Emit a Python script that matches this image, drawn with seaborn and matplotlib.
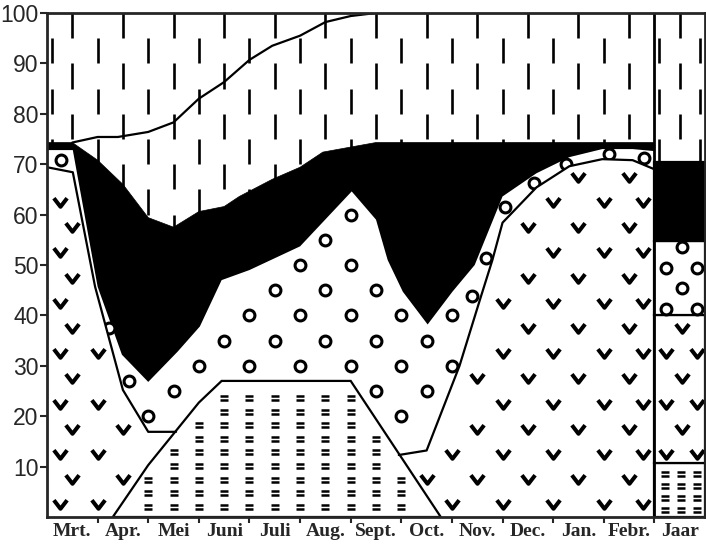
import numpy as np
import matplotlib
matplotlib.use("Agg")
import matplotlib.pyplot as plt
from matplotlib.path import Path
from matplotlib.patches import Polygon
import seaborn as sns

# month labels (main panel) and the year column
months = ["Mrt.", "Apr.", "Mei", "Juni", "Juli", "Aug.", "Sept.", "Oct.",
          "Nov.", "Dec.", "Jan.", "Febr."]
year_label = "Jaar"

# thin line running through the upper (dashed) zone
top_line_x = [0.5, 1.0, 1.4, 2.0, 2.5, 3.0, 3.5, 4.0, 4.45, 5.0, 5.5, 6.0, 6.5]
top_line_y = [74.3, 75.4, 75.4, 76.4, 78.3, 83.0, 86.3, 90.7, 93.5, 95.5, 98.2, 99.4, 100.0]

# upper edge of the black zone
black_x = [0, 0.5, 1.0, 1.5, 2.0, 2.5, 3.0, 3.5, 3.8, 4.45, 5.0, 5.45, 6.0, 6.5, 12]
black_y = [74.3, 74.3, 70.8, 66.0, 59.4, 57.5, 60.6, 61.6, 63.6, 67.0, 69.4, 72.4, 73.4, 74.3, 74.3]

# upper edge of the circle zone (= lower edge of the black zone)
circle_x = [0, 0.51, 1.0, 1.48, 2.0, 2.58, 3.02, 3.45, 4.0, 5.0, 6.02, 6.5, 6.73, 7.03,
            7.52, 8.01, 8.45, 9.0, 9.67, 10.32, 10.97, 11.57, 12]
circle_y = [72.8, 72.8, 45.7, 32.2, 26.8, 32.8, 37.8, 47.0, 49.0, 53.7, 64.6, 59.0, 51.0, 44.7,
            38.2, 44.7, 50.0, 63.6, 68.2, 71.4, 73.0, 73.0, 72.6]

# upper edge of the check-mark zone, spring part and autumn/winter part
v_left_x = [0, 0.51, 0.95, 1.5, 2.0, 2.55]
v_left_y = [69.4, 68.4, 45.7, 25.2, 16.9, 16.9]
v_right_x = [6.95, 7.5, 8.15, 8.55, 8.8, 9.0, 9.67, 10.32, 10.97, 11.57, 12]
v_right_y = [12.3, 13.2, 30.0, 43.0, 51.0, 58.4, 65.4, 69.6, 71.0, 70.8, 69.0]

# bottom zone (summer trapezoid)
trap_x = [1.3, 2.0, 3.0, 3.45, 6.0, 7.78]
trap_y = [0, 10.3, 22.7, 27.0, 27.0, 0]

# year column: cumulative tops of the bottom four zones
jaar_tops = [10.7, 40.0, 54.7, 70.4]

sns.set_style("ticks")
fig = plt.figure(figsize=(7.06, 5.48), dpi=100)
ax = fig.add_axes([47 / 706, 31 / 548, 658 / 706, 504 / 548])
ax.set_xlim(0, 13)
ax.set_ylim(0, 100)

# polygons of the zones
black_poly = list(zip(black_x, black_y)) + [(12, 0), (0, 0)]
circle_poly = list(zip(circle_x, circle_y)) + [(12, 0), (0, 0)]
v_left_poly = [(0, 0)] + list(zip(v_left_x, v_left_y)) + [(v_left_x[-1], 0)]
v_right_poly = [(v_right_x[0], 0)] + list(zip(v_right_x, v_right_y)) + [(12, 0)]
trap_poly = list(zip(trap_x, trap_y))

# dashed background of the top zone
dash_cols = np.r_[0.1, np.arange(0.5, 12, 0.5)]
dash_kind = np.r_[0, np.arange(1, 24) % 2]
dash_cols = np.r_[dash_cols, 12.1, 12.5, 12.9]
dash_kind = np.r_[dash_kind, 0, 1, 0]
xs, lo, hi = [], [], []
for xc, kind in zip(dash_cols, dash_kind):
    start = 100 if kind else 95
    for top in np.arange(start, 0, -10):
        xs.append(xc)
        hi.append(top)
        lo.append(max(top - 5, 0))
ax.vlines(xs, lo, hi, color="k", lw=1.9, zorder=1)

ax.add_patch(Polygon(black_poly, closed=True, fc="k", ec="k", lw=0.5, zorder=2))
ax.add_patch(Polygon(circle_poly, closed=True, fc="white", ec="none", zorder=3))
ax.add_patch(Polygon(v_left_poly, closed=True, fc="white", ec="none", zorder=5))
ax.add_patch(Polygon(v_right_poly, closed=True, fc="white", ec="none", zorder=5))
ax.add_patch(Polygon(trap_poly, closed=True, fc="white", ec="k", lw=1.6, zorder=7))


def keep(points, inside, outside=(), dx=5, dy=5):
    pts = np.asarray(points, float)
    disp = ax.transData.transform(pts)
    offs = [(0, 0), (dx, 0), (-dx, 0), (0, dy), (0, -dy),
            (dx, dy), (-dx, dy), (dx, -dy), (-dx, -dy)]
    ok = np.ones(len(pts), bool)
    path = Path(ax.transData.transform(inside))
    for ox, oy in offs:
        ok &= path.contains_points(disp + [ox, oy])
    for poly in outside:
        p = Path(ax.transData.transform(poly))
        for ox, oy in offs:
            ok &= ~p.contains_points(disp + [ox, oy])
    return pts[ok]


# marker shapes
v_mark = Path([(-1, 0.65), (0, -0.65), (1, 0.65)], [Path.MOVETO, Path.LINETO, Path.LINETO])
eq_mark = Path([(-1, 0.5), (1, 0.5), (-1, -0.5), (1, -0.5)],
               [Path.MOVETO, Path.LINETO, Path.MOVETO, Path.LINETO])
o_style = dict(ls="none", marker="o", ms=7.8, mfc="white", mec="k", mew=2.2)
v_style = dict(ls="none", marker=v_mark, ms=9.5, mfc="none", mec="k", mew=2.9)
eq_style = dict(ls="none", marker=eq_mark, ms=6, mfc="none", mec="k", mew=1.8)

# circles: staggered grid plus a few inside the narrow bands
grid = []
for k in range(1, 15):
    cols = np.arange(0, 12.01, 1.0) if k % 2 == 0 else np.arange(0.5, 12, 1.0)
    grid += [(c, 5 * k) for c in cols]
o_pts = keep(grid, circle_poly, [v_left_poly, v_right_poly, trap_poly], 5, 5)
band_x = np.array([0.28, 1.22, 1.62, 8.4, 8.68, 9.05, 9.62, 10.25, 11.1, 11.8])
v_edge = np.where(band_x < 5, np.interp(band_x, v_left_x, v_left_y),
                  np.interp(band_x, v_right_x, v_right_y))
band_y = (v_edge + np.interp(band_x, circle_x, circle_y)) / 2
o_pts = np.vstack([o_pts, np.column_stack([band_x, band_y])])
ax.plot(o_pts[:, 0], o_pts[:, 1], zorder=4, **o_style)

# check marks
grid = []
for k in range(0, 15):
    cols = np.r_[0.25, np.arange(1, 12), 11.78] if k % 2 == 0 else np.arange(0.5, 12, 1.0)
    grid += [(c, 2.5 + 5 * k) for c in cols]
v_pts = np.vstack([keep(grid, v_left_poly, [trap_poly], 7, 4),
                   keep(grid, v_right_poly, [trap_poly], 7, 4)])
ax.plot(v_pts[:, 0], v_pts[:, 1], zorder=6, **v_style)

# equal signs in the trapezoid
grid = [(c, r) for r in np.arange(2.0, 27, 2.7) for c in np.arange(1.5, 8, 0.5)]
eq_pts = keep(grid, trap_poly, (), 5, 4)
ax.plot(eq_pts[:, 0], eq_pts[:, 1], zorder=8, **eq_style)

# boundary lines
for lx, ly in [(top_line_x, top_line_y), (v_left_x, v_left_y), (v_right_x, v_right_y)]:
    sns.lineplot(x=lx, y=ly, color="k", lw=1.6, ax=ax, zorder=9,
                 estimator=None, sort=False, legend=False)

# year column as stacked bars
bottoms = [0] + jaar_tops[:-1]
heights = np.diff([0] + jaar_tops)
colors = ["white", "white", "white", "k"]
for b, h, c in zip(bottoms, heights, colors):
    ax.bar(12.5, h, bottom=b, width=1.0, color=c, edgecolor="k", lw=1.6, zorder=5)

jx_side, jx_mid = [12.22, 12.85], [12.55]
j_o = [(x, 41.3 + 4.1 * i) for i in range(4) for x in (jx_side if i % 2 == 0 else jx_mid)]
j_v = [(x, 12.5 + 5 * i) for i in range(6) for x in (jx_side if i % 2 == 0 else jx_mid)]
j_eq = [(x, 1.3 + 2.4 * i) for i in range(4) for x in (12.2, 12.52, 12.85)]
ax.plot(*np.array(j_o).T, zorder=6, **o_style)
ax.plot(*np.array(j_v).T, zorder=6, **v_style)
ax.plot(*np.array(j_eq).T, zorder=6, **eq_style)

ax.axvline(12, color="k", lw=2, zorder=10)

# axes and labels
ax.set_yticks(np.arange(10, 101, 10), labels=[str(v) for v in range(10, 101, 10)],
              fontfamily="Liberation Sans", fontsize=16.5)
ax.tick_params(axis="y", length=5, width=1.5, direction="out", pad=1)
ax.set_xticks(np.arange(1, 13), labels=[""] * 12)
ax.tick_params(axis="x", which="major", length=4, width=1.5, direction="out")
ax.set_xticks(np.arange(13) + 0.5, labels=months + [year_label], minor=True,
              fontfamily="Liberation Serif", fontweight="bold", fontsize=14)
ax.tick_params(axis="x", which="minor", length=0, pad=4)
for s in ax.spines.values():
    s.set_linewidth(2)
    s.set_zorder(20)

fig.savefig("out.png", dpi=100)
